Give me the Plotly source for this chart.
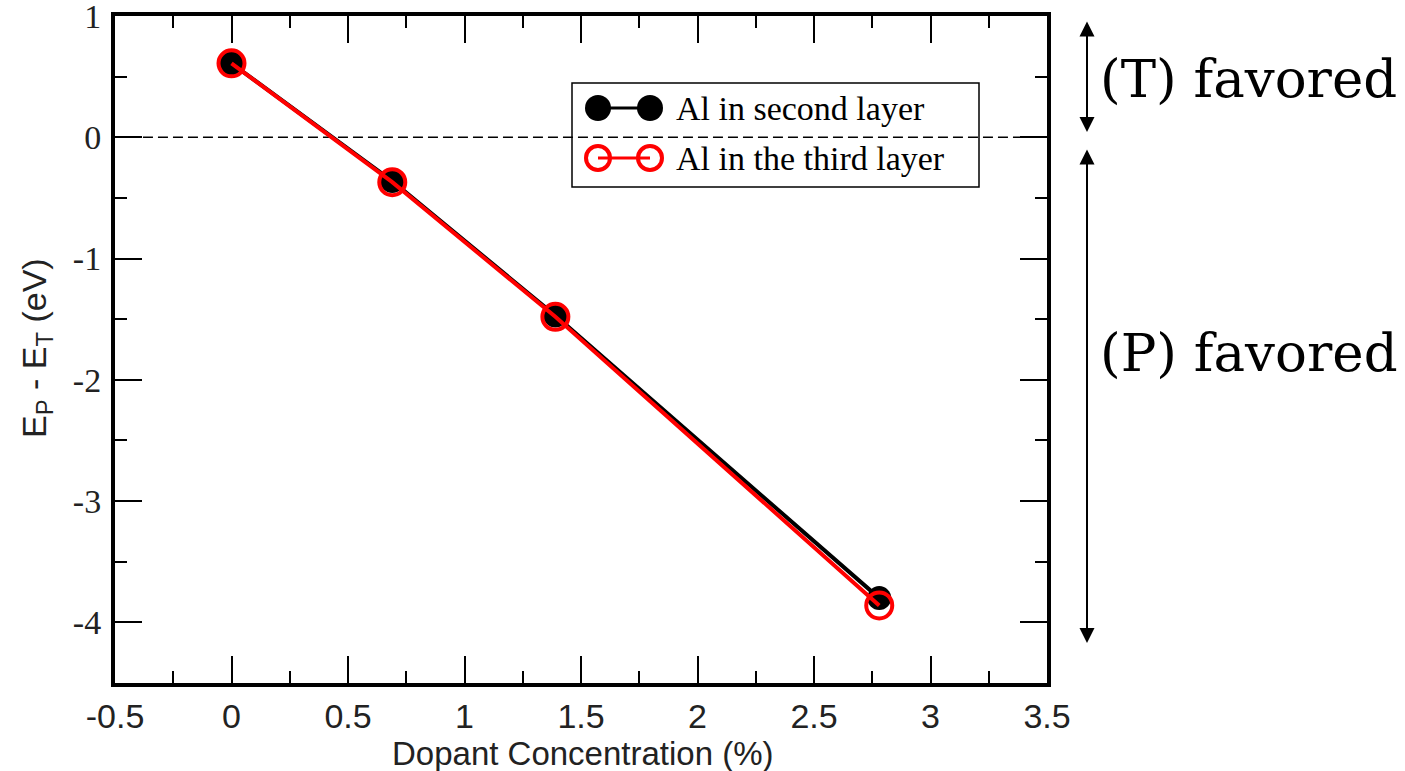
import plotly.graph_objects as go

# Data
concentration = [0.0, 0.69, 1.39, 2.78]
second_layer = [0.61, -0.36, -1.47, -3.80]
third_layer = [0.61, -0.37, -1.48, -3.86]
x_ticks = [-0.5, 0, 0.5, 1, 1.5, 2, 2.5, 3, 3.5]
x_tick_text = ["-0.5", "0", "0.5", "1", "1.5", "2", "2.5", "3", "3.5"]
y_ticks = [1, 0, -1, -2, -3, -4]
y_tick_text = ["1", "0", "-1", "-2", "-3", "-4"]
legend_names = ["Al in second layer", "Al in the third layer"]

W, H = 1405, 771
L, R, T, B = 115, 1047, 16, 683
pw, ph = R - L, B - T

def px_x(p):
    return (p - L) / pw

def px_y(p):
    return (B - p) / ph

fig = go.Figure()

fig.add_trace(go.Scatter(
    x=concentration, y=second_layer, mode="lines+markers",
    line=dict(color="black", width=4),
    marker=dict(symbol="circle", size=24, color="black"),
    showlegend=False, cliponaxis=False,
))
fig.add_trace(go.Scatter(
    x=concentration, y=third_layer, mode="lines+markers",
    line=dict(color="#ff0000", width=4),
    marker=dict(symbol="circle-open", size=26, color="#ff0000", line=dict(width=4, color="#ff0000")),
    showlegend=False, cliponaxis=False,
))

# custom legend on an auxiliary paper-like axis
lx = [px_x(598), px_x(650)]
ly = [px_y(108), px_y(158)]
fig.add_trace(go.Scatter(
    x=lx, y=[ly[0], ly[0]], xaxis="x2", yaxis="y2", mode="lines+markers",
    line=dict(color="black", width=3),
    marker=dict(symbol="circle", size=26, color="black"),
    showlegend=False, hoverinfo="skip",
))
fig.add_trace(go.Scatter(
    x=lx, y=[ly[1], ly[1]], xaxis="x2", yaxis="y2", mode="lines+markers",
    line=dict(color="#ff0000", width=3),
    marker=dict(symbol="circle-open", size=24, color="#ff0000", line=dict(width=4, color="#ff0000")),
    showlegend=False, hoverinfo="skip",
))

shapes = [
    dict(type="line", xref="x", yref="y", x0=-0.38, x1=3.40, y0=0, y1=0,
         line=dict(color="black", width=1.5, dash="10px,5px"), layer="below"),
    dict(type="rect", xref="paper", yref="paper",
         x0=px_x(572), x1=px_x(979), y0=px_y(187), y1=px_y(83),
         line=dict(color="black", width=1.5), fillcolor="white", layer="below"),
]

annotations = []
for name, yy in zip(legend_names, ly):
    annotations.append(dict(
        xref="paper", yref="paper", x=px_x(674), y=yy, text=name, showarrow=False,
        xanchor="left", yanchor="middle",
        font=dict(family="Liberation Serif", size=34, color="black"),
    ))

# axis titles
annotations.append(dict(
    xref="paper", yref="paper", x=px_x(583), y=px_y(753), text="Dopant Concentration (%)",
    showarrow=False, xanchor="center", yanchor="middle",
    font=dict(family="Liberation Sans", size=33, color="#222222"),
))
annotations.append(dict(
    xref="paper", yref="paper", x=px_x(36), y=px_y(348), text="E<sub>P</sub> - E<sub>T</sub> (eV)",
    showarrow=False, xanchor="center", yanchor="middle", textangle=-90,
    font=dict(family="Liberation Sans", size=34, color="#222222"),
))

# side arrows
ax_px = 1087
annotations.append(dict(
    xref="paper", yref="paper", x=px_x(ax_px), y=px_y(132), ax=0, ay=-(132 - 20),
    text="", showarrow=True, arrowhead=2, startarrowhead=2, arrowside="end+start",
    arrowwidth=2, arrowsize=1.5, startarrowsize=1.5, arrowcolor="black",
))
annotations.append(dict(
    xref="paper", yref="paper", x=px_x(ax_px), y=px_y(643), ax=0, ay=-(643 - 148),
    text="", showarrow=True, arrowhead=2, startarrowhead=2, arrowside="end+start",
    arrowwidth=2, arrowsize=1.5, startarrowsize=1.5, arrowcolor="black",
))
annotations.append(dict(
    xref="paper", yref="paper", x=px_x(1098), y=px_y(79), text="(T) favored",
    showarrow=False, xanchor="left", yanchor="middle",
    font=dict(family="DejaVu Serif", size=53, color="black"),
))
annotations.append(dict(
    xref="paper", yref="paper", x=px_x(1098), y=px_y(352), text="(P) favored",
    showarrow=False, xanchor="left", yanchor="middle",
    font=dict(family="DejaVu Serif", size=53, color="black"),
))

fig.update_layout(
    width=W, height=H,
    margin=dict(l=L, r=W - R, t=T, b=H - B, pad=0, autoexpand=False),
    paper_bgcolor="white", plot_bgcolor="white",
    showlegend=False,
    shapes=shapes,
    annotations=annotations,
    xaxis=dict(
        range=[-0.5, 3.5], tickvals=x_ticks, ticktext=x_tick_text,
        ticks="inside", ticklen=27, tickwidth=2, tickcolor="black",
        minor=dict(dtick=0.25, tick0=0, ticks="inside", ticklen=12, tickwidth=2, tickcolor="black"),
        showline=True, linewidth=4, linecolor="black", mirror="allticks",
        showgrid=False, zeroline=False, automargin=False,
        tickfont=dict(family="Liberation Sans", size=34, color="#222222"),
        ticklabelstandoff=0, ticklabeloverflow="allow",
    ),
    yaxis=dict(
        range=[-4.5, 1.0005], tickvals=y_ticks, ticktext=y_tick_text,
        ticks="inside", ticklen=27, tickwidth=2, tickcolor="black",
        minor=dict(dtick=0.5, tick0=0, ticks="inside", ticklen=12, tickwidth=2, tickcolor="black"),
        showline=True, linewidth=4, linecolor="black", mirror="allticks",
        showgrid=False, zeroline=False, automargin=False,
        tickfont=dict(family="Liberation Serif", size=34, color="#222222"),
        ticklabelstandoff=3, ticklabeloverflow="allow",
    ),
    xaxis2=dict(domain=[0, 1], range=[0, 1], visible=False, overlaying="x", anchor="y2"),
    yaxis2=dict(domain=[0, 1], range=[0, 1], visible=False, overlaying="y", anchor="x2"),
)

fig.write_html("out.html")
